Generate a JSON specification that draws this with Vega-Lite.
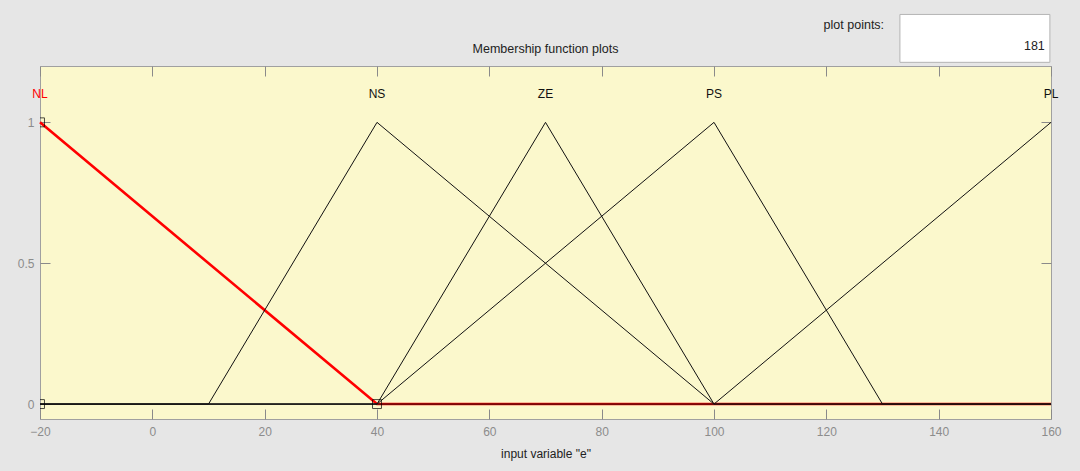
{
  "$schema": "https://vega.github.io/schema/vega-lite/v6.json",
  "width": 1011,
  "height": 353,
  "autosize": {"type": "none"},
  "padding": {"left": 40, "top": 66, "right": 29, "bottom": 52},
  "background": "#e6e6e6",
  "config": {
    "view": {"fill": "#fbf8cc", "stroke": "#a0a0a0", "strokeWidth": 1},
    "font": "Liberation Sans",
    "axis": {
      "domain": false,
      "grid": false,
      "tickColor": "#8a8a8a",
      "tickSize": -10,
      "labelColor": "#8c8c8c",
      "labelFontSize": 12,
      "labelFlush": false,
      "labelOverlap": false,
      "titleFontSize": 12,
      "titleFontWeight": "normal",
      "titleColor": "#222222"
    }
  },
  "datasets": {
    "mf": [
      {"name": "NL", "x": -20, "mu": 1},
      {"name": "NL", "x": 40, "mu": 0},
      {"name": "NL", "x": 160, "mu": 0},
      {"name": "NS", "x": -20, "mu": 0},
      {"name": "NS", "x": 10, "mu": 0},
      {"name": "NS", "x": 40, "mu": 1},
      {"name": "NS", "x": 100, "mu": 0},
      {"name": "NS", "x": 160, "mu": 0},
      {"name": "ZE", "x": -20, "mu": 0},
      {"name": "ZE", "x": 40, "mu": 0},
      {"name": "ZE", "x": 70, "mu": 1},
      {"name": "ZE", "x": 100, "mu": 0},
      {"name": "ZE", "x": 160, "mu": 0},
      {"name": "PS", "x": -20, "mu": 0},
      {"name": "PS", "x": 40, "mu": 0},
      {"name": "PS", "x": 100, "mu": 1},
      {"name": "PS", "x": 130, "mu": 0},
      {"name": "PS", "x": 160, "mu": 0},
      {"name": "PL", "x": -20, "mu": 0},
      {"name": "PL", "x": 100, "mu": 0},
      {"name": "PL", "x": 160, "mu": 1}
    ],
    "labels": [
      {"name": "NL", "x": -20, "mu": 1.1, "selected": "yes"},
      {"name": "NS", "x": 40, "mu": 1.1, "selected": "no"},
      {"name": "ZE", "x": 70, "mu": 1.1, "selected": "no"},
      {"name": "PS", "x": 100, "mu": 1.1, "selected": "no"},
      {"name": "PL", "x": 160, "mu": 1.1, "selected": "no"}
    ],
    "vertices": [
      {"x": -20, "mu": 1},
      {"x": -20, "mu": 0},
      {"x": 40, "mu": 0}
    ],
    "box": [
      {"x": 133.1, "x2": 159.8, "mu": 1.383, "mu2": 1.213}
    ],
    "ui": [
      {"text": "Membership function plots", "x": 70, "mu": 1.259, "align": "center"},
      {"text": "plot points:", "x": 124.9, "mu": 1.344, "align": "center"},
      {"text": "181", "x": 158.9, "mu": 1.27, "align": "right"}
    ]
  },
  "layer": [
    {
      "data": {"name": "mf"},
      "transform": [{"filter": "datum.name === 'NL'"}],
      "mark": {"type": "line", "color": "#ff0000", "strokeWidth": 2.6},
      "encoding": {
        "x": {
          "field": "x", "type": "quantitative",
          "scale": {"domain": [-20, 160], "nice": false, "zero": false},
          "axis": {
            "orient": "bottom",
            "values": [-20, 0, 20, 40, 60, 80, 100, 120, 140, 160],
            "labelPadding": 17,
            "title": "input variable \"e\"",
            "titlePadding": 11
          }
        },
        "y": {
          "field": "mu", "type": "quantitative",
          "scale": {"domain": [-0.053, 1.2], "nice": false, "zero": false},
          "axis": {
            "orient": "left",
            "values": [0, 0.5, 1],
            "labelExpr": "datum.value",
            "labelPadding": 16,
            "title": null
          }
        }
      }
    },
    {
      "data": {"name": "mf"},
      "transform": [{"filter": "datum.name !== 'NL'"}],
      "mark": {"type": "line", "color": "#111111", "strokeWidth": 1},
      "encoding": {
        "x": {"field": "x", "type": "quantitative",
          "axis": {"orient": "top", "values": [-20, 0, 20, 40, 60, 80, 100, 120, 140, 160], "labels": false, "title": null}},
        "y": {"field": "mu", "type": "quantitative",
          "axis": {"orient": "right", "values": [0, 0.5, 1], "labels": false, "title": null}},
        "detail": {"field": "name"}
      }
    },
    {
      "data": {"name": "vertices"},
      "mark": {"type": "point", "shape": "square", "size": 80, "filled": false, "stroke": "#000000", "strokeWidth": 1, "clip": true},
      "encoding": {
        "x": {"field": "x", "type": "quantitative", "axis": null},
        "y": {"field": "mu", "type": "quantitative", "axis": null}
      }
    },
    {
      "data": {"name": "labels"},
      "mark": {"type": "text", "fontSize": 12, "baseline": "middle", "align": "center"},
      "encoding": {
        "x": {"field": "x", "type": "quantitative", "axis": null},
        "y": {"field": "mu", "type": "quantitative", "axis": null},
        "text": {"field": "name"},
        "color": {"field": "selected", "type": "nominal",
          "scale": {"domain": ["yes", "no"], "range": ["#ff0000", "#111111"]}, "legend": null}
      }
    },
    {
      "data": {"name": "box"},
      "mark": {"type": "rect", "fill": "#ffffff", "stroke": "#b4b4b4", "strokeWidth": 1},
      "encoding": {
        "x": {"field": "x", "type": "quantitative", "axis": null},
        "x2": {"field": "x2"},
        "y": {"field": "mu", "type": "quantitative", "axis": null},
        "y2": {"field": "mu2"}
      }
    },
    {
      "data": {"name": "ui"},
      "transform": [{"filter": "datum.align === 'center'"}],
      "mark": {"type": "text", "fontSize": 12.5, "baseline": "middle", "align": "center", "color": "#222222"},
      "encoding": {
        "x": {"field": "x", "type": "quantitative", "axis": null},
        "y": {"field": "mu", "type": "quantitative", "axis": null},
        "text": {"field": "text"}
      }
    },
    {
      "data": {"name": "ui"},
      "transform": [{"filter": "datum.align === 'right'"}],
      "mark": {"type": "text", "fontSize": 12.5, "baseline": "middle", "align": "right", "color": "#222222"},
      "encoding": {
        "x": {"field": "x", "type": "quantitative", "axis": null},
        "y": {"field": "mu", "type": "quantitative", "axis": null},
        "text": {"field": "text"}
      }
    }
  ]
}
